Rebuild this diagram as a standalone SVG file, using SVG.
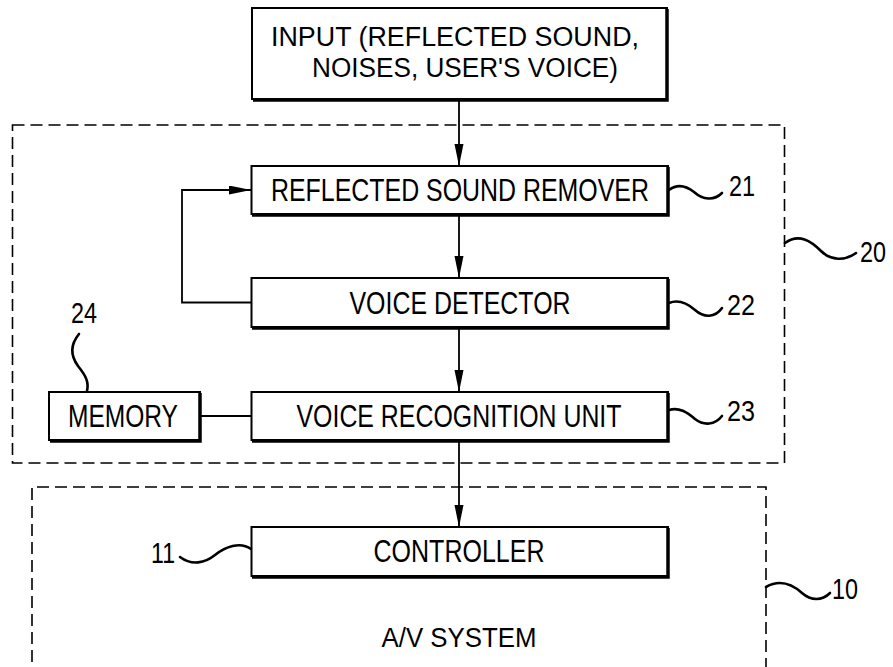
<svg xmlns="http://www.w3.org/2000/svg" width="893" height="667" viewBox="0 0 893 667">
<style>
.bg{fill:#fff}
.box{fill:#fff;stroke:#000;stroke-width:2}
.shadow{fill:none;stroke:#000;stroke-width:3.5;stroke-linejoin:miter}
.dash{fill:none;stroke:#000;stroke-width:1.6;stroke-dasharray:12 6}
.line{fill:none;stroke:#000;stroke-width:1.8}
.sq{fill:none;stroke:#000;stroke-width:2.6;stroke-linecap:round}
.t{font-family:"Liberation Sans",Arial,sans-serif;font-size:31px;fill:#000;text-anchor:middle}
.ti{font-family:"Liberation Sans",Arial,sans-serif;font-size:27px;fill:#000;text-anchor:middle}
.n{font-family:"Liberation Sans",Arial,sans-serif;font-size:30px;fill:#000}
</style>
<defs>
<marker id="ah" markerUnits="userSpaceOnUse" markerWidth="24" markerHeight="10" refX="22" refY="4.5" orient="auto">
<path d="M0,0 L22,4.5 L0,9 Z" fill="#000"/>
</marker>
</defs>
<rect class="bg" x="0" y="0" width="893" height="667"/>

<g id="group20">
<rect class="dash" x="12.5" y="125" width="772" height="338"/>
<path class="sq" d="M785,243 c14,-10 26,-2 36,8 c10,10 24,10 35,2"/>
<text class="n" x="860" y="262" textLength="26" lengthAdjust="spacingAndGlyphs">20</text>
</g>

<g id="group10">
<path class="dash" d="M32,680 V487 H766 V680"/>
<path class="sq" d="M766,587 c14,-8 26,-3 36,6 c9,8 20,8 28,0"/>
<text class="n" x="832" y="599" textLength="26" lengthAdjust="spacingAndGlyphs">10</text>
<text class="ti" x="459" y="647" textLength="155" lengthAdjust="spacingAndGlyphs">A/V SYSTEM</text>
</g>

<g id="connectors">
<line class="line" x1="459" y1="99" x2="459" y2="166" marker-end="url(#ah)"/>
<line class="line" x1="459" y1="215" x2="459" y2="278" marker-end="url(#ah)"/>
<line class="line" x1="459" y1="328" x2="459" y2="392" marker-end="url(#ah)"/>
<line class="line" x1="459" y1="441" x2="459" y2="527" marker-end="url(#ah)"/>
<path class="line" d="M251,302.5 H182 V190 H251" marker-end="url(#ah)"/>
<line class="line" x1="200" y1="416" x2="251" y2="416"/>
</g>

<g id="input">
<rect class="box" x="252" y="8" width="415" height="91"/>
<path class="shadow" d="M667,9 V100 H253"/>
<text class="ti" x="455" y="46" textLength="368" lengthAdjust="spacingAndGlyphs">INPUT (REFLECTED SOUND,</text>
<text class="ti" x="465" y="77" textLength="306" lengthAdjust="spacingAndGlyphs">NOISES, USER'S VOICE)</text>
</g>

<g id="remover21">
<rect class="box" x="251.5" y="166" width="416.5" height="48"/>
<path class="shadow" d="M668,167 V215 H252"/>
<text class="t" x="460" y="201" textLength="378" lengthAdjust="spacingAndGlyphs">REFLECTED SOUND REMOVER</text>
<path class="sq" d="M669,190 c8,-6 16,-5 25,2 c9,8 20,9 28,1"/>
<text class="n" x="729" y="196" textLength="26" lengthAdjust="spacingAndGlyphs">21</text>
</g>

<g id="detector22">
<rect class="box" x="251.5" y="278" width="416.5" height="49"/>
<path class="shadow" d="M668,279 V328 H252"/>
<text class="t" x="460" y="314" textLength="221" lengthAdjust="spacingAndGlyphs">VOICE DETECTOR</text>
<path class="sq" d="M669,303 c10,-4 18,0 26,7 c9,8 20,8 27,-2"/>
<text class="n" x="727" y="315" textLength="28" lengthAdjust="spacingAndGlyphs">22</text>
</g>

<g id="recognition23">
<rect class="box" x="251.5" y="392" width="416.5" height="48"/>
<path class="shadow" d="M668,393 V441 H252"/>
<text class="t" x="459" y="427" textLength="325" lengthAdjust="spacingAndGlyphs">VOICE RECOGNITION UNIT</text>
<path class="sq" d="M669,410 c10,-3 18,2 26,9 c9,7 20,6 27,-3"/>
<text class="n" x="727" y="421" textLength="28" lengthAdjust="spacingAndGlyphs">23</text>
</g>

<g id="memory24">
<rect class="box" x="49" y="392" width="151" height="48"/>
<path class="shadow" d="M200,393 V441 H50"/>
<text class="t" x="123" y="427" textLength="110" lengthAdjust="spacingAndGlyphs">MEMORY</text>
<path class="sq" d="M79,334 C70,345 70,355 78,366 C86,376 89,382 87,391"/>
<text class="n" x="71" y="323" textLength="26" lengthAdjust="spacingAndGlyphs">24</text>
</g>

<g id="controller11">
<rect class="box" x="251.5" y="527" width="416.5" height="49"/>
<path class="shadow" d="M668,528 V577 H252"/>
<text class="t" x="459" y="562" textLength="171" lengthAdjust="spacingAndGlyphs">CONTROLLER</text>
<path class="sq" d="M180,557 C192,566 205,563 215,555 C225,547 240,541 251,549"/>
<text class="n" x="151" y="563" textLength="24" lengthAdjust="spacingAndGlyphs">11</text>
</g>
</svg>
